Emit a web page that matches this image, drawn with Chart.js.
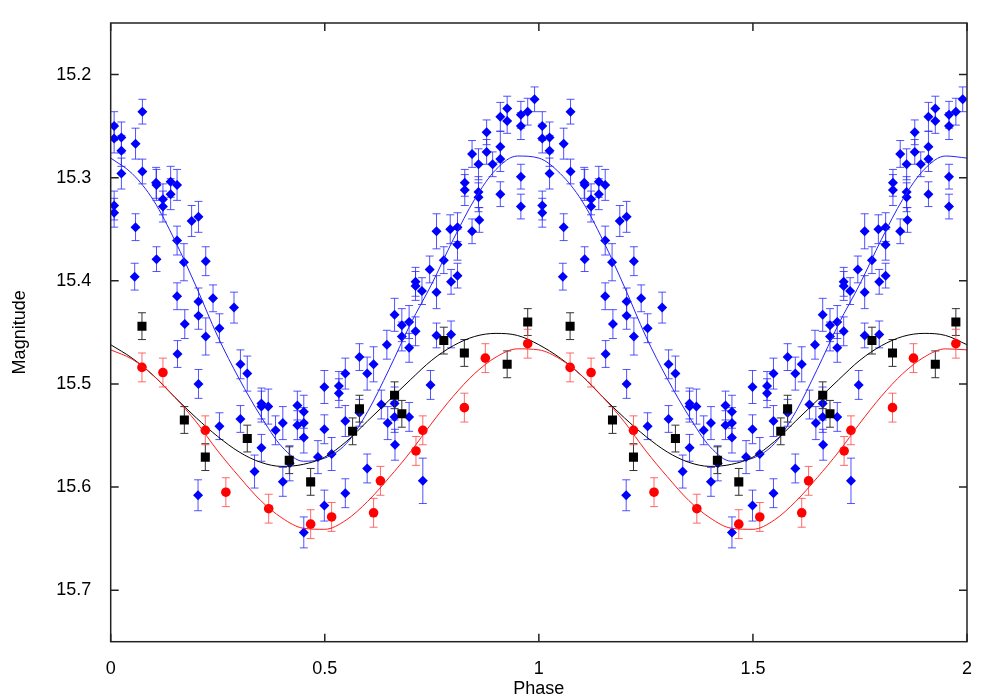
<!DOCTYPE html>
<html>
<head>
<meta charset="utf-8">
<script src="https://cdn.jsdelivr.net/npm/chart.js@4.4.1/dist/chart.umd.min.js"></script>
<style>
	html, body { margin: 0; padding: 0; background: #fff; }
</style>
</head>
<body>
<canvas id="lc" width="1000" height="700"></canvas>
<script>
// phase-folded photometry, one cycle (drawn twice: phase and phase+1)
const bluePhase = [
	0.008, 0.008, 0.008, 0.008, 0.025, 0.025, 0.025, 0.056, 0.058, 0.058,
	0.074, 0.074, 0.106, 0.107, 0.107, 0.122, 0.122, 0.140, 0.140, 0.155,
	0.155, 0.155, 0.156, 0.171, 0.173, 0.189, 0.205, 0.205, 0.205, 0.205,
	0.204, 0.222, 0.222, 0.239, 0.254, 0.254, 0.288, 0.303, 0.303, 0.319,
	0.336, 0.352, 0.352, 0.352, 0.368, 0.385, 0.402, 0.402, 0.418, 0.436,
	0.436, 0.451, 0.451, 0.451, 0.451, 0.484, 0.499, 0.499, 0.499, 0.516,
	0.533, 0.533, 0.548, 0.548, 0.548, 0.581, 0.581, 0.599, 0.599, 0.614,
	0.632, 0.645, 0.647, 0.663, 0.663, 0.663, 0.664, 0.680, 0.680, 0.697,
	0.697, 0.697, 0.712, 0.712, 0.712, 0.727, 0.729, 0.745, 0.747, 0.761,
	0.761, 0.761, 0.778, 0.793, 0.795, 0.795, 0.810, 0.810, 0.810, 0.827,
	0.827, 0.844, 0.844, 0.859, 0.859, 0.859, 0.861, 0.878, 0.878, 0.892,
	0.910, 0.910, 0.910, 0.910, 0.926, 0.926, 0.958, 0.958, 0.958, 0.958,
	0.974, 0.990,
];
const blueMag = [
	15.250, 15.262, 15.327, 15.334, 15.261, 15.274, 15.296, 15.396, 15.267, 15.348,
	15.236, 15.294, 15.305, 15.307, 15.379, 15.321, 15.328, 15.304, 15.316, 15.307,
	15.361, 15.415, 15.471, 15.382, 15.442, 15.342, 15.338, 15.420, 15.434, 15.500,
	15.608, 15.381, 15.454, 15.417, 15.446, 15.541, 15.426, 15.481, 15.534, 15.490,
	15.585, 15.519, 15.522, 15.562, 15.522, 15.545, 15.538, 15.595, 15.577, 15.521,
	15.540, 15.527, 15.538, 15.552, 15.644, 15.571, 15.503, 15.544, 15.618, 15.568,
	15.502, 15.509, 15.490, 15.536, 15.606, 15.474, 15.528, 15.490, 15.582, 15.481,
	15.520, 15.462, 15.538, 15.433, 15.519, 15.532, 15.559, 15.443, 15.454, 15.440,
	15.465, 15.532, 15.401, 15.405, 15.449, 15.410, 15.594, 15.389, 15.501, 15.352,
	15.411, 15.453, 15.380, 15.350, 15.401, 15.452, 15.348, 15.365, 15.395, 15.305,
	15.312, 15.277, 15.352, 15.287, 15.314, 15.319, 15.341, 15.256, 15.275, 15.287,
	15.241, 15.270, 15.282, 15.316, 15.233, 15.245, 15.239, 15.250, 15.299, 15.328,
	15.236, 15.224,
];
const blueErr = [
	0.014, 0.014, 0.014, 0.014, 0.015, 0.015, 0.015, 0.013, 0.015, 0.013,
	0.012, 0.012, 0.015, 0.015, 0.012, 0.015, 0.015, 0.015, 0.015, 0.015,
	0.014, 0.013, 0.013, 0.018, 0.014, 0.015, 0.015, 0.013, 0.013, 0.014,
	0.015, 0.014, 0.018, 0.013, 0.014, 0.013, 0.015, 0.014, 0.013, 0.017,
	0.016, 0.015, 0.015, 0.013, 0.017, 0.014, 0.016, 0.014, 0.017, 0.014,
	0.014, 0.016, 0.015, 0.015, 0.015, 0.016, 0.016, 0.014, 0.015, 0.016,
	0.014, 0.014, 0.015, 0.015, 0.014, 0.013, 0.013, 0.016, 0.014, 0.017,
	0.014, 0.014, 0.016, 0.016, 0.016, 0.015, 0.015, 0.016, 0.014, 0.016,
	0.014, 0.014, 0.014, 0.014, 0.014, 0.013, 0.022, 0.013, 0.014, 0.017,
	0.016, 0.012, 0.013, 0.014, 0.012, 0.013, 0.014, 0.015, 0.012, 0.013,
	0.015, 0.013, 0.012, 0.015, 0.015, 0.014, 0.012, 0.012, 0.012, 0.012,
	0.014, 0.015, 0.012, 0.012, 0.012, 0.012, 0.013, 0.013, 0.012, 0.012,
	0.013, 0.012,
];

const blackPhase = [0.073, 0.172, 0.221, 0.319, 0.417, 0.467, 0.565, 0.581, 0.663, 0.680, 0.778, 0.826, 0.926, 0.974];
const blackMag = [15.444, 15.535, 15.571, 15.553, 15.574, 15.595, 15.546, 15.524, 15.511, 15.529, 15.458, 15.470, 15.481, 15.440];
const blackErr = [0.013, 0.013, 0.013, 0.013, 0.013, 0.013, 0.013, 0.013, 0.013, 0.013, 0.013, 0.013, 0.013, 0.013];

const redPhase = [0.073, 0.122, 0.221, 0.269, 0.369, 0.467, 0.516, 0.614, 0.630, 0.713, 0.729, 0.826, 0.875, 0.974];
const redMag = [15.484, 15.489, 15.545, 15.605, 15.621, 15.636, 15.629, 15.625, 15.594, 15.565, 15.545, 15.523, 15.475, 15.461];
const redErr = [0.014, 0.014, 0.014, 0.014, 0.014, 0.014, 0.014, 0.014, 0.014, 0.014, 0.014, 0.014, 0.014, 0.014];

// fitted light curves, read every 0.05 in phase
const fitPhase = [0, 0.05, 0.1, 0.15, 0.2, 0.25, 0.3, 0.35, 0.4, 0.45, 0.5, 0.55, 0.6, 0.65, 0.7, 0.75, 0.8, 0.85, 0.9, 0.95, 1];
const blueFit = [15.281, 15.296, 15.322, 15.361, 15.406, 15.454, 15.495, 15.531, 15.561, 15.575, 15.572, 15.558, 15.527, 15.486, 15.442, 15.403, 15.360, 15.321, 15.292, 15.279, 15.281];
const blackFit = [15.462, 15.475, 15.492, 15.513, 15.533, 15.551, 15.566, 15.576, 15.580, 15.578, 15.571, 15.556, 15.536, 15.516, 15.496, 15.477, 15.463, 15.454, 15.451, 15.453, 15.462];
const redFit = [15.467, 15.476, 15.492, 15.513, 15.537, 15.565, 15.590, 15.613, 15.630, 15.640, 15.641, 15.632, 15.614, 15.591, 15.566, 15.538, 15.512, 15.490, 15.474, 15.466, 15.467];

const xTicks = [0, 0.5, 1, 1.5, 2];
const yTicks = [15.2, 15.3, 15.4, 15.5, 15.6, 15.7];

const folded = (phase, mag, err) => {
	const pts = [];
	[0, 1].forEach((cycle) => {
		phase.forEach((p, i) => pts.push({ x: p + cycle, y: mag[i], e: err[i] }));
	});
	return pts;
};

const foldedCurve = (mag) => {
	const pts = fitPhase.map((p, i) => ({ x: p, y: mag[i] }));
	fitPhase.forEach((p, i) => {
		if (i > 0) pts.push({ x: p + 1, y: mag[i] });
	});
	return pts;
};

const font = { family: "'Liberation Sans', Arial, sans-serif", size: 18 };

// error bars go under each dataset's markers
const errorBars = {
	id: 'errorBars',
	beforeDatasetDraw(chart, args) {
		const ds = chart.data.datasets[args.index];
		if (!ds.errColor) return;
		const yScale = chart.scales.y;
		const ctx = chart.ctx;
		ctx.save();
		ctx.strokeStyle = ds.errColor;
		ctx.lineWidth = 1;
		args.meta.data.forEach((pt, i) => {
			const d = ds.data[i];
			const top = yScale.getPixelForValue(d.y - d.e);
			const bot = yScale.getPixelForValue(d.y + d.e);
			ctx.beginPath();
			ctx.moveTo(pt.x, top);
			ctx.lineTo(pt.x, bot);
			ctx.moveTo(pt.x - 4, top);
			ctx.lineTo(pt.x + 4, top);
			ctx.moveTo(pt.x - 4, bot);
			ctx.lineTo(pt.x + 4, bot);
			ctx.stroke();
		});
		ctx.restore();
	},
};

// gnuplot-style box with inward ticks on all four sides
const frame = {
	id: 'frame',
	afterDraw(chart) {
		const { ctx, chartArea: a, scales } = chart;
		const tl = 8;
		ctx.save();
		ctx.strokeStyle = '#222';
		ctx.lineWidth = 1.5;
		ctx.strokeRect(a.left, a.top, a.right - a.left, a.bottom - a.top);
		ctx.beginPath();
		xTicks.forEach((v) => {
			const px = scales.x.getPixelForValue(v);
			ctx.moveTo(px, a.bottom);
			ctx.lineTo(px, a.bottom - tl);
			ctx.moveTo(px, a.top);
			ctx.lineTo(px, a.top + tl);
		});
		yTicks.forEach((v) => {
			const py = scales.y.getPixelForValue(v);
			ctx.moveTo(a.left, py);
			ctx.lineTo(a.left + tl, py);
			ctx.moveTo(a.right, py);
			ctx.lineTo(a.right - tl, py);
		});
		ctx.stroke();
		ctx.restore();
	},
};

const curve = (data, color, order) => ({
	data,
	showLine: true,
	borderColor: color,
	borderWidth: 1,
	pointRadius: 0,
	cubicInterpolationMode: 'monotone',
	order,
});

new Chart(document.getElementById('lc'), {
	type: 'scatter',
	data: {
		datasets: [
			{
				data: folded(bluePhase, blueMag, blueErr),
				pointStyle: 'rectRot',
				pointRadius: 5,
				backgroundColor: '#0000ff',
				borderWidth: 0,
				errColor: 'rgba(40, 40, 255, 0.8)',
				order: 6,
			},
			curve(foldedCurve(blueFit), '#2222ff', 5),
			{
				data: folded(blackPhase, blackMag, blackErr),
				pointStyle: 'rect',
				pointRadius: 6.4,
				backgroundColor: '#000',
				borderWidth: 0,
				errColor: '#333',
				order: 4,
			},
			curve(foldedCurve(blackFit), '#000', 3),
			{
				data: folded(redPhase, redMag, redErr),
				pointStyle: 'circle',
				pointRadius: 4.8,
				backgroundColor: '#ff0000',
				borderWidth: 0,
				errColor: 'rgba(255, 70, 70, 0.8)',
				order: 2,
			},
			curve(foldedCurve(redFit), '#ff1a1a', 1),
		],
	},
	options: {
		responsive: false,
		animation: false,
		layout: { padding: { left: 0, right: 33, top: 23, bottom: 0 } },
		plugins: { legend: { display: false }, tooltip: { enabled: false } },
		scales: {
			x: {
				type: 'linear',
				min: 0,
				max: 2,
				grid: { display: false },
				border: { display: false },
				afterBuildTicks: (s) => { s.ticks = xTicks.map((v) => ({ value: v })); },
				afterFit: (s) => { s.height = 58.3; },
				ticks: { font, color: '#000', padding: 8.5, maxRotation: 0, callback: (v) => String(v) },
				title: { display: true, text: 'Phase', font, color: '#000', padding: { top: 0, bottom: 0 } },
			},
			y: {
				type: 'linear',
				reverse: true,
				min: 15.15,
				max: 15.75,
				grid: { display: false },
				border: { display: false },
				afterBuildTicks: (s) => { s.ticks = yTicks.map((v) => ({ value: v })); },
				afterFit: (s) => { s.width = 110.7; },
				ticks: { font, color: '#000', padding: 11.5, callback: (v) => Number(v).toFixed(1) },
				title: { display: true, text: 'Magnitude', font, color: '#000', padding: { top: 9, bottom: 0 } },
			},
		},
	},
	plugins: [errorBars, frame],
});
</script>
</body>
</html>
